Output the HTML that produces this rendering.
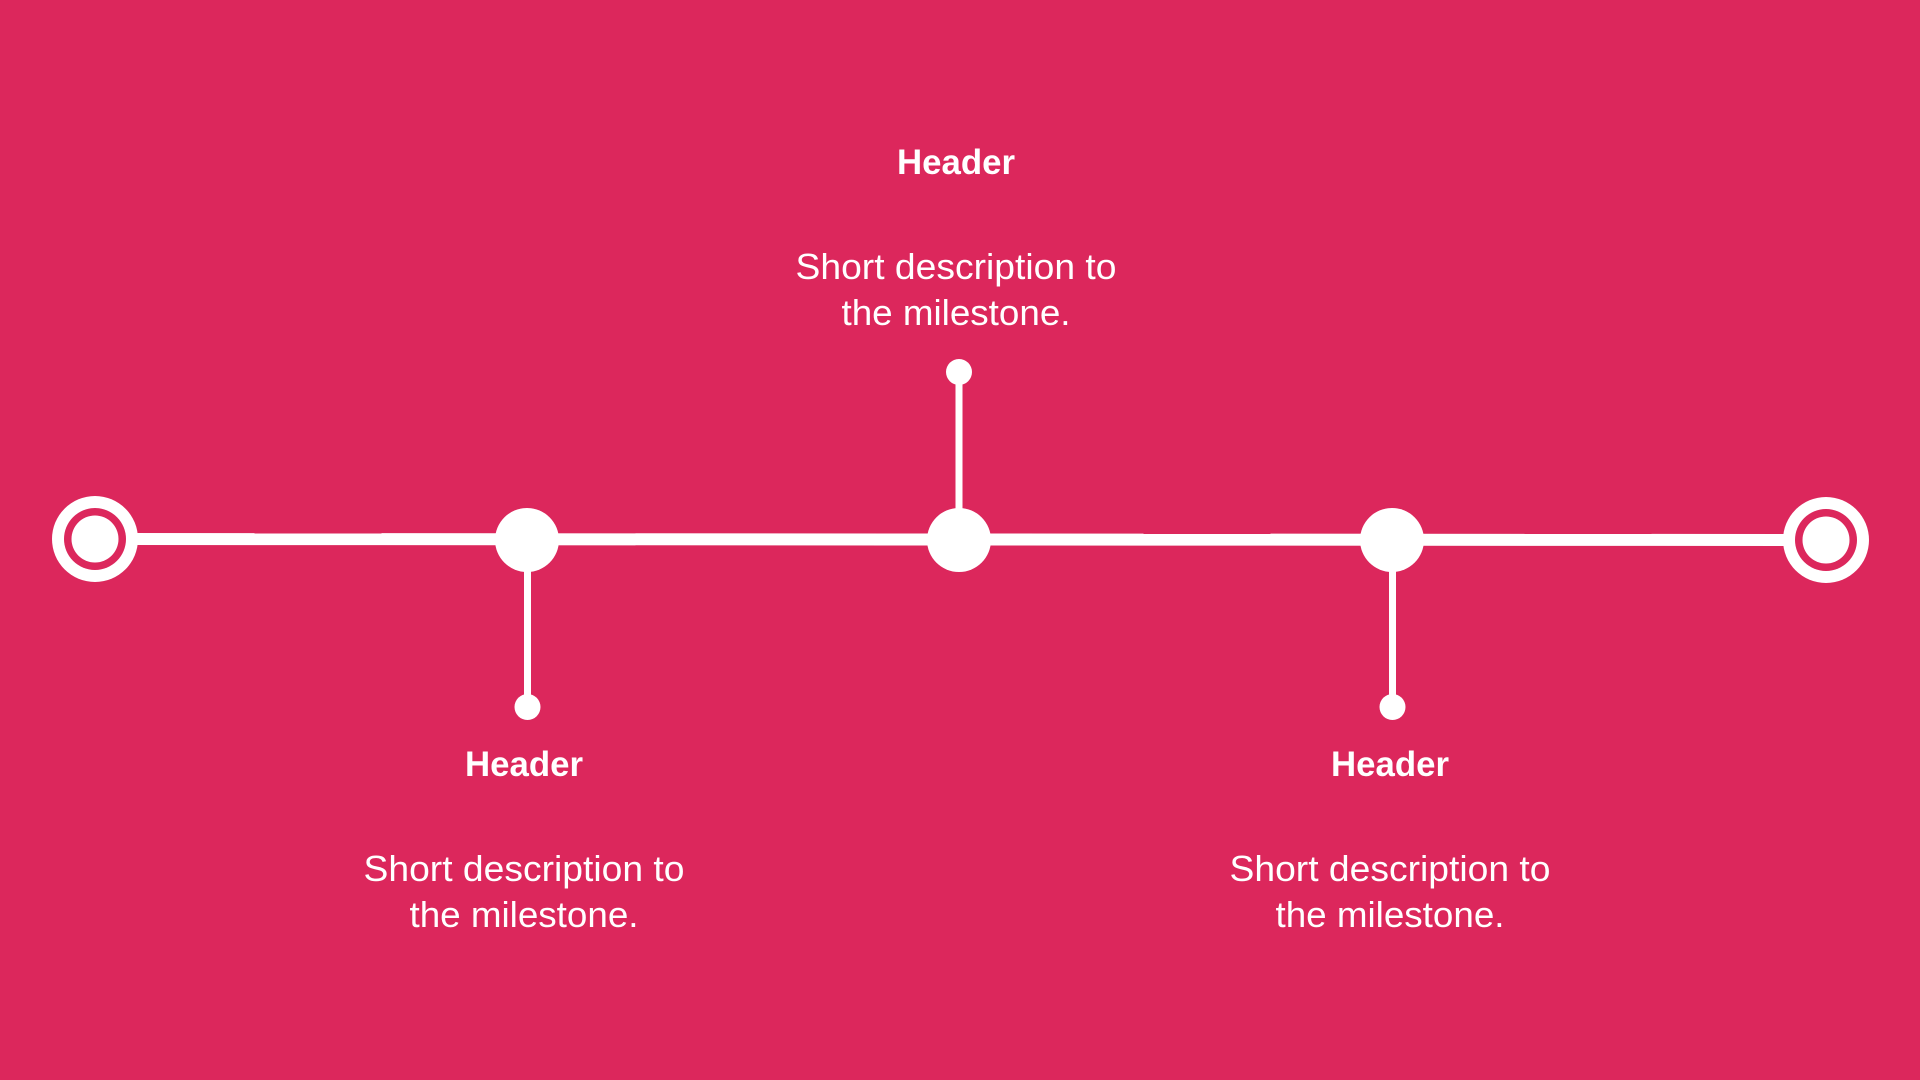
<!DOCTYPE html>
<html><head><meta charset="utf-8"><style>
html,body{margin:0;padding:0;background:#DC275C;}
svg{display:block}
</style></head><body>
<svg width="1920" height="1080" viewBox="0 0 1920 1080" xmlns="http://www.w3.org/2000/svg">
<rect width="1920" height="1080" fill="#DC275C"/>
<line x1="95" y1="539" x2="1826" y2="540" stroke="#fff" stroke-width="12"/>
<circle cx="95" cy="539" r="43" fill="#fff"/>
<circle cx="95" cy="539" r="31" fill="#DC275C"/>
<circle cx="95" cy="539" r="23.5" fill="#fff"/>
<circle cx="1826" cy="540" r="43" fill="#fff"/>
<circle cx="1826" cy="540" r="31" fill="#DC275C"/>
<circle cx="1826" cy="540" r="23.5" fill="#fff"/>
<line x1="527.5" y1="540" x2="527.5" y2="707" stroke="#fff" stroke-width="7"/>
<circle cx="527" cy="540" r="32" fill="#fff"/>
<circle cx="527.5" cy="707" r="13" fill="#fff"/>
<line x1="959" y1="540" x2="959" y2="372" stroke="#fff" stroke-width="7"/>
<circle cx="959" cy="540" r="32" fill="#fff"/>
<circle cx="959" cy="372" r="13" fill="#fff"/>
<line x1="1392.5" y1="540" x2="1392.5" y2="707" stroke="#fff" stroke-width="7"/>
<circle cx="1392" cy="540" r="32" fill="#fff"/>
<circle cx="1392.5" cy="707" r="13" fill="#fff"/>
<g fill="#fff" font-family="'Liberation Sans', sans-serif" text-anchor="middle">
<text x="956" y="174" font-size="35" font-weight="bold" textLength="118" lengthAdjust="spacingAndGlyphs">Header</text>
<text x="956" y="279" font-size="36" textLength="321" lengthAdjust="spacingAndGlyphs">Short description to</text>
<text x="956" y="325" font-size="36" textLength="229" lengthAdjust="spacingAndGlyphs">the milestone.</text>
<text x="524" y="776" font-size="35" font-weight="bold" textLength="118" lengthAdjust="spacingAndGlyphs">Header</text>
<text x="524" y="881" font-size="36" textLength="321" lengthAdjust="spacingAndGlyphs">Short description to</text>
<text x="524" y="927" font-size="36" textLength="229" lengthAdjust="spacingAndGlyphs">the milestone.</text>
<text x="1390" y="776" font-size="35" font-weight="bold" textLength="118" lengthAdjust="spacingAndGlyphs">Header</text>
<text x="1390" y="881" font-size="36" textLength="321" lengthAdjust="spacingAndGlyphs">Short description to</text>
<text x="1390" y="927" font-size="36" textLength="229" lengthAdjust="spacingAndGlyphs">the milestone.</text>
</g>
</svg>
</body></html>
